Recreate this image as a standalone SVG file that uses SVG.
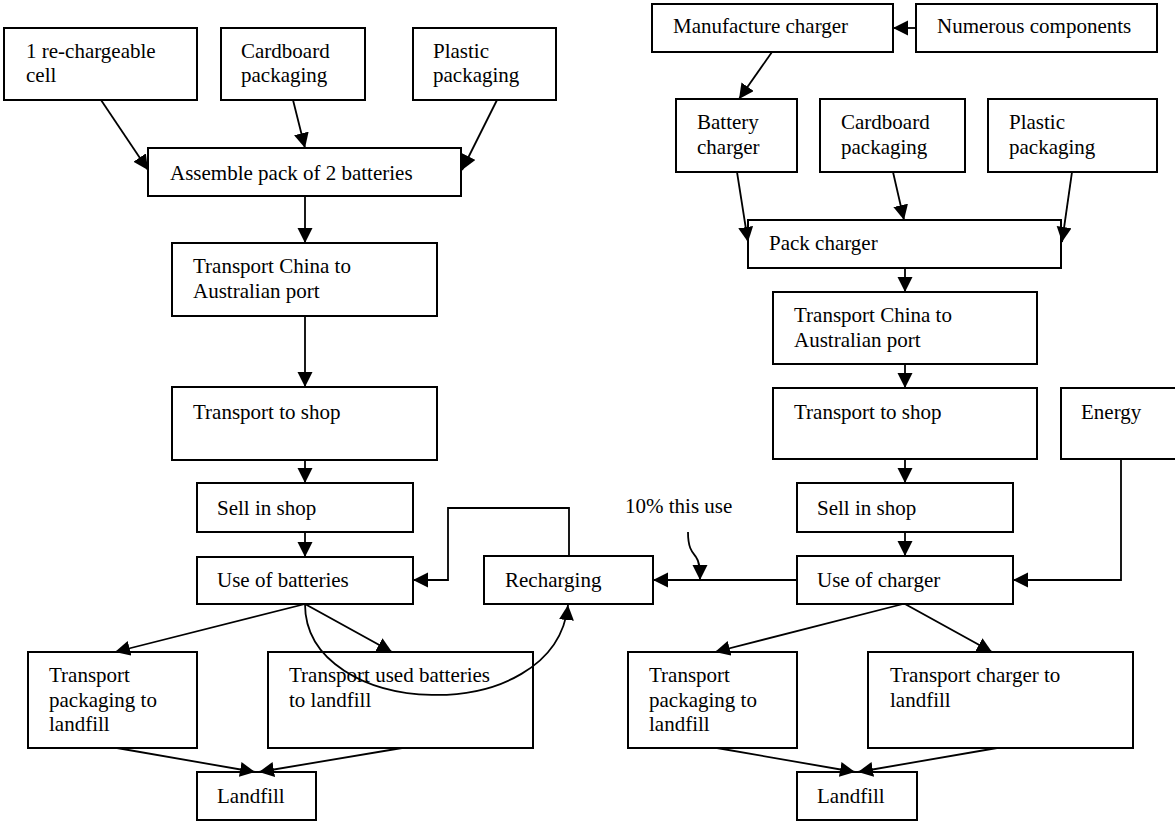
<svg xmlns="http://www.w3.org/2000/svg" width="1175" height="825" viewBox="0 0 1175 825">
<defs>
<marker id="ah" markerUnits="userSpaceOnUse" markerWidth="16" markerHeight="16" refX="15" refY="7.5" orient="auto">
<path d="M0,0 L15,7.5 L0,15 Z" fill="#000"/>
</marker>
<style>
rect{fill:#fff;stroke:#000;stroke-width:2}
text{font-family:"Liberation Serif","Times New Roman",serif;font-size:21px;fill:#000}
#connectors path{fill:none;stroke:#000;stroke-width:1.8}
#connectors path.a{marker-end:url(#ah)}
</style>
</defs>
<rect x="0" y="0" width="1175" height="825" style="stroke:none"/>
<g id="cell"><rect x="4" y="28" width="193" height="72"/><text x="26" y="58">1 re-chargeable</text><text x="26" y="82">cell</text></g>
<g id="cardboardL"><rect x="221" y="28" width="144" height="72"/><text x="241" y="58">Cardboard</text><text x="241" y="82">packaging</text></g>
<g id="plasticL"><rect x="413" y="28" width="143" height="72"/><text x="433" y="58">Plastic</text><text x="433" y="82">packaging</text></g>
<g id="assemble"><rect x="148" y="148" width="313" height="48"/><text x="170" y="180">Assemble pack of 2 batteries</text></g>
<g id="transportChinaL"><rect x="172" y="243" width="265" height="73"/><text x="193" y="273">Transport China to</text><text x="193" y="298">Australian port</text></g>
<g id="transportShopL"><rect x="172" y="387" width="265" height="73"/><text x="193" y="419">Transport to shop</text></g>
<g id="sellL"><rect x="197" y="483" width="216" height="49"/><text x="217" y="515">Sell in shop</text></g>
<g id="useBatteries"><rect x="197" y="557" width="216" height="47"/><text x="217" y="587">Use of batteries</text></g>
<g id="recharging"><rect x="484" y="556" width="169" height="48"/><text x="505" y="587">Recharging</text></g>
<g id="transportPackagingL"><rect x="28" y="652" width="169" height="96"/><text x="49" y="682">Transport</text><text x="49" y="707">packaging to</text><text x="49" y="731">landfill</text></g>
<g id="transportUsedBatteries"><rect x="268" y="652" width="265" height="96"/><text x="289" y="682">Transport used batteries</text><text x="289" y="707">to landfill</text></g>
<g id="landfillL"><rect x="197" y="772" width="119" height="48"/><text x="217" y="803">Landfill</text></g>
<g id="manufacture"><rect x="652" y="4" width="241" height="48"/><text x="673" y="33">Manufacture charger</text></g>
<g id="numerous"><rect x="916" y="4" width="241" height="48"/><text x="937" y="33">Numerous components</text></g>
<g id="batteryCharger"><rect x="676" y="99" width="121" height="73"/><text x="697" y="129">Battery</text><text x="697" y="154">charger</text></g>
<g id="cardboardR"><rect x="820" y="99" width="145" height="73"/><text x="841" y="129">Cardboard</text><text x="841" y="154">packaging</text></g>
<g id="plasticR"><rect x="988" y="99" width="169" height="73"/><text x="1009" y="129">Plastic</text><text x="1009" y="154">packaging</text></g>
<g id="packCharger"><rect x="748" y="220" width="313" height="48"/><text x="769" y="250">Pack charger</text></g>
<g id="transportChinaR"><rect x="773" y="292" width="264" height="72"/><text x="794" y="322">Transport China to</text><text x="794" y="347">Australian port</text></g>
<g id="transportShopR"><rect x="773" y="388" width="264" height="71"/><text x="794" y="419">Transport to shop</text></g>
<g id="energy"><rect x="1061" y="388" width="115" height="71"/><text x="1081" y="419">Energy</text></g>
<g id="sellR"><rect x="797" y="483" width="216" height="49"/><text x="817" y="515">Sell in shop</text></g>
<g id="useCharger"><rect x="797" y="556" width="216" height="48"/><text x="817" y="587">Use of charger</text></g>
<g id="transportPackagingR"><rect x="628" y="652" width="169" height="96"/><text x="649" y="682">Transport</text><text x="649" y="707">packaging to</text><text x="649" y="731">landfill</text></g>
<g id="transportCharger"><rect x="868" y="652" width="265" height="96"/><text x="890" y="682">Transport charger to</text><text x="890" y="707">landfill</text></g>
<g id="landfillR"><rect x="797" y="772" width="120" height="48"/><text x="817" y="803">Landfill</text></g>
<g id="label10"><text x="625" y="513">10% this use</text></g>
<g id="connectors">
<path class="a" d="M101,100 L148,170"/>
<path class="a" d="M293,100 L305,148"/>
<path class="a" d="M497,100 L462,170"/>
<path class="a" d="M305,196 V243"/>
<path class="a" d="M305,316 V387"/>
<path class="a" d="M305,460 V483"/>
<path class="a" d="M305,532 V557"/>
<path class="a" d="M305,604 L115,652"/>
<path class="a" d="M305,604 L392,652"/>
<path class="a" d="M305,604 C305,720 555,730 568,605"/>
<path class="a" d="M117,748 L255,772"/>
<path class="a" d="M402,748 L259,772"/>
<path class="a" d="M569,556 V508 H448 V580 H413"/>
<path class="a" d="M797,580 H653"/>
<path class="a" d="M688,532 C688,548 692,552 696,557 C699,561 700,566 700,580"/>
<path class="a" d="M916,28 H893"/>
<path class="a" d="M772,52 L739,99"/>
<path class="a" d="M737,172 L748,242"/>
<path class="a" d="M893,172 L904,220"/>
<path class="a" d="M1072,172 L1062,242"/>
<path class="a" d="M905,268 V292"/>
<path class="a" d="M905,364 V388"/>
<path class="a" d="M905,459 V483"/>
<path class="a" d="M905,532 V556"/>
<path class="a" d="M1121,459 V580 H1013"/>
<path class="a" d="M903,604 L715,652"/>
<path class="a" d="M905,604 L992,652"/>
<path class="a" d="M717,748 L855,772"/>
<path class="a" d="M997,748 L858,772"/>
</g>
</svg>
